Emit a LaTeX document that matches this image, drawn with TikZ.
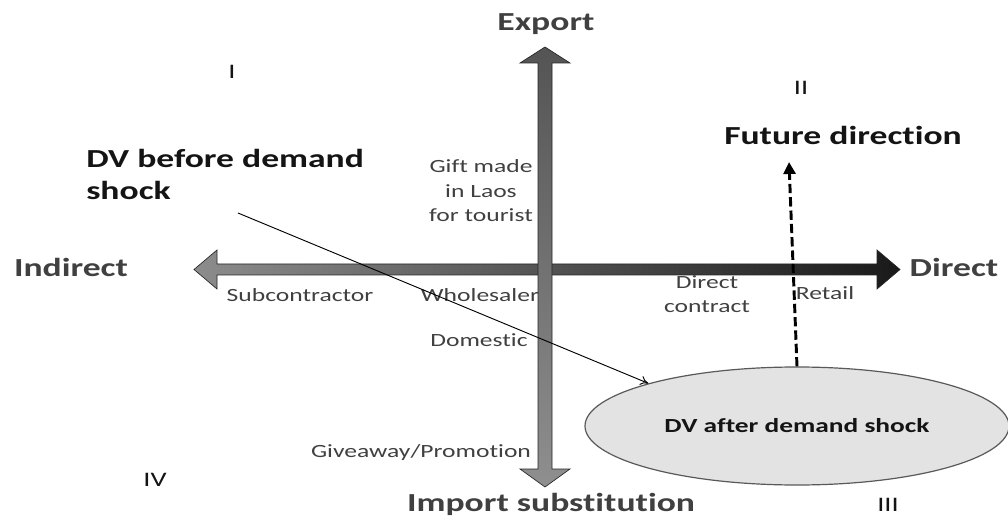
\documentclass[tikz,border=0pt]{standalone}
\usepackage{fontspec}
\setmainfont{Carlito}[FakeStretch=1.37,Ligatures={NoCommon}]
\usetikzlibrary{shapes.geometric,arrows.meta}
\definecolor{txt}{gray}{0.25}
\definecolor{dark}{gray}{0.08}
\definecolor{hleft}{gray}{0.55}
\definecolor{hmid}{gray}{0.32}
\definecolor{hright}{gray}{0.1}
\definecolor{vtop}{gray}{0.33}
\definecolor{vbot}{gray}{0.56}
\begin{document}
\begin{tikzpicture}[x=0.75pt,y=-0.75pt,
  big/.style={font=\bfseries\fontsize{19.5}{24}\selectfont,text=txt,inner sep=0pt},
  bigdark/.style={big,text=dark},
  small/.style={font=\fontsize{14}{18.4}\selectfont,text=txt,inner sep=0pt,align=center},
  roman/.style={font=\fontsize{15.5}{18}\selectfont,text=dark,inner sep=0pt},
  ellnode/.style={ellipse,draw=gray!70!black,fill=gray!22,line width=0.9pt,
    minimum width=318pt,minimum height=88.5pt,inner sep=0pt,
    font=\bfseries\fontsize{15}{18}\selectfont,text=dark},
  thinarrow/.style={draw=black,line width=0.7pt,-{To[length=6pt,width=7pt]}},
  dasharrow/.style={draw=black,line width=2.2pt,dash pattern=on 7pt off 3pt,
    -{Triangle[length=9pt,width=9pt]}}
]
\useasboundingbox (0,0) rectangle (1008,524);

% horizontal axis
\shade[left color=hleft,middle color=hmid,right color=hright,draw=gray!30!black,line width=0.5pt]
  (194,269.5) -- (217,250) -- (217,264) -- (877,264) -- (877,250) -- (900,269.5)
  -- (877,289) -- (877,275) -- (217,275) -- (217,289) -- cycle;
% vertical axis
\shade[top color=vtop,bottom color=vbot,draw=gray!30!black,line width=0.5pt]
  (545,47) -- (570,63) -- (552,63) -- (552,469) -- (570,469) -- (545,487)
  -- (520,469) -- (538,469) -- (538,63) -- (520,63) -- cycle;

% axis labels
\node[big,anchor=base] (export) at (546,31) {Export};
\node[big,anchor=base] (import) at (551,511) {Import substitution};
\node[big,anchor=base] (indirect) at (71,277) {Indirect};
\node[big,anchor=base] (direct) at (954,277) {Direct};
\node[bigdark,anchor=base] (future) at (843,145) {Future direction};
\node[bigdark,anchor=base west,align=left] (before) at (86,200) {DV before demand\\shock};

% quadrant numerals
\node[roman] (q1) at (232,72) {I};
\node[roman] (q2) at (801,88) {II};
\node[roman] (q3) at (888,505) {III};
\node[roman] (q4) at (155,480) {IV};

% small labels
\node[small,anchor=base] (gift) at (481,222) {Gift made\\in Laos\\for tourist};
\node[small,anchor=base] (sub) at (300,302) {Subcontractor};
\node[small,anchor=base] (whole) at (480,302) {Wholesaler};
\node[small,anchor=base] (dcon) at (707,313) {Direct\\contract};
\node[small,anchor=base] (retail) at (825,300) {Retail};
\node[small,anchor=base] (dom) at (479,347) {Domestic};
\node[small,anchor=base] (give) at (421,457) {Giveaway/Promotion};

% ellipse
\node[ellnode] (after) at (797,426) {DV after demand shock};

% connectors
\coordinate (start) at (238,213);
\coordinate (fut) at (789,162);
\draw[thinarrow] (start) -- (after.164);
\draw[dasharrow] (after.north) -- (fut);
\end{tikzpicture}
\end{document}
